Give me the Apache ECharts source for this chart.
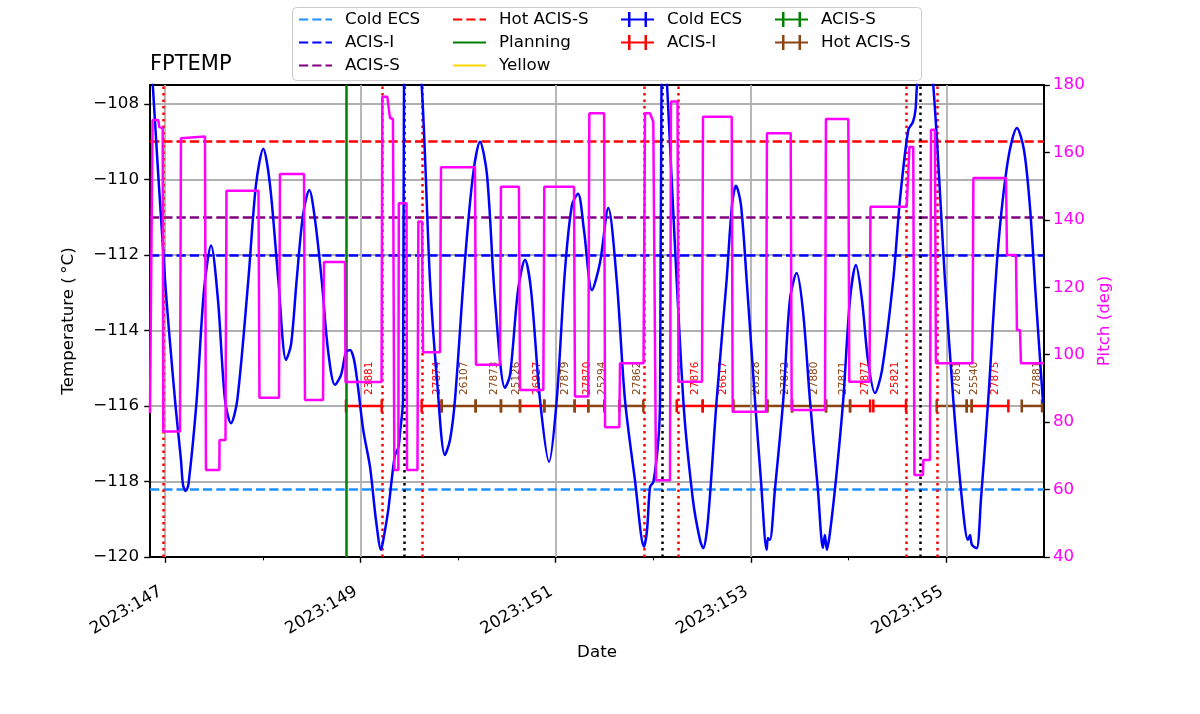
<!DOCTYPE html>
<html><head><meta charset="utf-8">
<script src="https://cdn.jsdelivr.net/npm/echarts@6/dist/echarts.min.js"></script>
<style>html,body{margin:0;padding:0;background:#fff}#chart{width:1200px;height:714px}</style>
</head><body><div id="chart"></div>
<script>
const FONT = 'DejaVu Sans';
// ---- axes (x = day of year 2023) ----
const xMin = 146.845, xMax = 156.0;
const xMajorTicks = [147, 149, 151, 153, 155];
const xMinorTicks = [148, 150, 152, 154];
const tempTicks = [-120, -118, -116, -114, -112, -110, -108];
const tempMin = -120, tempMax = -107.5;
const pitchMin = 40, pitchMax = 180, pitchStep = 20;

// ---- limit lines ----
const limitNames = ['Cold ECS', 'ACIS-I', 'ACIS-S', 'Hot ACIS-S'];
const limitValues = [-118.2, -112.0, -111.0, -109.0];
const limitColors = ['#1e90ff', '#0000ff', '#800080', '#ff0000'];
const planningDay = 148.849;
const radzoneEdges = [146.981, 149.224, 149.634, 151.907, 152.245, 154.594, 154.912];
const perigees = [149.449, 152.095, 154.730];

// ---- observation timeline ----
const obsLevel = -116;
const obsIds =   [23881, 27874, 26107, 27873, 25126, 26927, 27879, 27870, 25294, 27862, 27876, 26617, 26528, 27872, 27880, 27871, 27877, 25821, 27861, 25540, 27875, 27881];
const obsStart = [148.852, 149.627, 149.832, 150.180, 150.439, 150.634, 150.883, 151.194, 151.333, 151.651, 152.239, 152.505, 152.818, 153.167, 153.420, 153.768, 154.014, 154.252, 154.901, 155.209, 155.260, 155.772];
const obsStop =  [149.218, 149.832, 150.180, 150.439, 150.634, 150.883, 151.194, 151.333, 151.497, 151.897, 152.505, 152.818, 153.167, 153.420, 153.768, 154.014, 154.219, 154.587, 155.209, 155.260, 155.635, 155.980];
const obsTypes = ['ACIS-I', 'ACIS-I', 'Hot ACIS-S', 'Hot ACIS-S', 'Hot ACIS-S', 'ACIS-I', 'Hot ACIS-S', 'ACIS-I', 'Hot ACIS-S', 'Hot ACIS-S', 'ACIS-I', 'ACIS-I', 'Hot ACIS-S', 'Hot ACIS-S', 'Hot ACIS-S', 'Hot ACIS-S', 'ACIS-I', 'ACIS-I', 'Hot ACIS-S', 'Hot ACIS-S', 'ACIS-I', 'Hot ACIS-S'];
const obsTypeNames = ['Cold ECS', 'ACIS-I', 'ACIS-S', 'Hot ACIS-S'];
const obsTypeColors = ['#0000ff', '#ff0000', '#008000', '#8b4513'];

// ---- FPTEMP (deg C) ----
const tempDays = [146.845,146.999,147.101,147.162,147.183,147.211,147.239,147.323,147.398,147.470,
147.541,147.613,147.674,147.739,147.852,147.930,148.005,148.074,148.159,148.238,
148.289,148.347,148.412,148.476,148.535,148.603,148.668,148.739,148.801,148.852,
148.893,148.944,149.029,149.098,149.159,149.211,149.234,149.285,149.320,149.354,
149.388,149.405,149.436,149.446,149.528,149.627,149.712,149.784,149.865,149.917,
149.968,150.071,150.153,150.224,150.296,150.378,150.480,150.532,150.614,150.685,
150.747,150.839,150.931,151.010,151.095,151.166,151.228,151.289,151.371,151.453,
151.538,151.624,151.709,151.811,151.904,151.935,151.966,152.000,152.051,152.068,
152.083,152.109,152.140,152.306,152.405,152.477,152.511,152.559,152.648,152.750,
152.805,152.846,152.897,152.955,153.040,153.101,153.160,153.173,153.193,153.244,
153.330,153.398,153.467,153.531,153.603,153.685,153.736,153.756,153.777,153.808,
153.869,153.944,154.013,154.074,154.136,154.197,154.269,154.341,154.456,154.525,
154.610,154.658,154.684,154.700,154.781,154.866,154.986,155.071,155.160,155.221,
155.242,155.262,155.310,155.354,155.429,155.528,155.631,155.723,155.795,155.856,
155.918,155.990];
const tempValues = [-106.3,-112.66,-115.84,-117.43,-118.09,-118.25,-118.07,-115.84,-112.93,-111.75,
-113.19,-115.84,-116.46,-115.84,-112.66,-110.15,-109.19,-110.15,-112.66,-114.78,
-114.38,-112.66,-110.94,-110.28,-111.07,-112.66,-114.52,-115.44,-115.18,-114.57,
-114.52,-114.91,-116.64,-117.61,-119.02,-119.81,-119.55,-118.75,-117.96,-117.30,
-117.11,-116.72,-115.84,-107.5,-105.0,-107.5,-112.66,-115.31,-117.30,-116.90,
-115.84,-112.13,-109.88,-109.0,-109.88,-113.19,-115.52,-115.18,-112.93,-112.13,
-112.93,-115.84,-117.48,-115.84,-112.40,-110.68,-110.38,-111.34,-112.93,-112.21,
-110.76,-112.66,-115.84,-117.96,-119.73,-119.28,-118.14,-118.01,-116.90,-115.84,
-107.5,-105.8,-107.5,-115.84,-118.49,-119.55,-119.77,-119.02,-115.84,-112.66,
-110.68,-110.17,-110.68,-112.66,-115.84,-117.96,-119.81,-119.50,-119.55,-118.23,
-115.84,-113.19,-112.48,-113.46,-115.84,-118.23,-119.76,-119.42,-119.81,-119.36,
-117.96,-115.84,-113.19,-112.27,-113.19,-114.78,-115.66,-115.05,-112.66,-110.54,
-108.69,-108.48,-108.16,-107.5,-105.8,-107.5,-112.66,-115.84,-118.49,-119.55,
-119.42,-119.68,-119.77,-118.49,-115.84,-111.87,-109.49,-108.64,-109.22,-110.72,
-113.19,-115.92];

// ---- Pitch (deg) ----
const pitchDays = [146.845,146.862,146.871,146.930,146.940,146.975,146.981,147.152,147.162,147.408,
147.418,147.555,147.557,147.618,147.628,147.956,147.966,148.166,148.176,148.422,
148.432,148.617,148.627,148.842,148.847,149.216,149.224,149.275,149.303,149.333,
149.347,149.388,149.393,149.472,149.477,149.584,149.593,149.630,149.641,149.815,
149.825,150.173,150.183,150.429,150.439,150.623,150.634,150.873,150.883,151.187,
151.197,151.333,151.344,151.495,151.505,151.651,151.658,151.899,151.914,151.965,
151.999,152.016,152.027,152.170,152.180,152.247,152.257,152.498,152.508,152.802,
152.812,153.153,153.163,153.406,153.416,153.757,153.767,153.996,154.006,154.213,
154.223,154.594,154.607,154.622,154.661,154.673,154.760,154.765,154.832,154.843,
154.883,154.893,155.267,155.277,155.611,155.621,155.713,155.723,155.754,155.764,
156.0];
const pitchValues = [82.7,82.7,169.6,169.6,167.5,167.2,77.2,77.2,164.2,164.7,
65.8,65.8,74.7,74.7,148.6,148.6,87.2,87.2,153.6,153.6,
86.6,86.6,127.5,127.5,91.9,91.9,176.5,176.5,170.2,169.9,
65.8,65.8,144.9,144.9,65.8,65.8,139.5,139.5,100.7,100.7,
155.6,155.6,97.0,97.0,149.8,149.8,89.5,89.5,149.8,149.8,
87.6,87.6,171.6,171.6,78.5,78.5,97.5,97.5,171.6,171.6,
169.1,169.1,62.8,62.8,175.1,175.1,92.0,92.0,170.6,170.6,
83.1,83.1,165.7,165.7,83.6,83.6,169.9,169.9,92.0,92.0,
143.9,143.9,144.4,161.6,161.6,64.3,64.3,68.8,68.8,166.7,
166.7,97.5,97.5,152.4,152.4,129.6,129.6,107.3,107.3,97.5,
97.5];

// ================= build chart =================
const DASH = [9.25, 4];
const DOT = [2.5, 4];
const LW = 2.5;
const minus = v => String(v).replace('-', '\u2212');
const zip = (a, b) => a.map((d, i) => [d, b[i]]);

function vLineSeries(days, color, type, width, z, name) {
  return {
    name: name || undefined, type: 'line', data: [], symbol: 'none', z: z, silent: true,
    lineStyle: { color: color, type: type, width: width }, itemStyle: { color: color },
    markLine: {
      silent: true, symbol: ['none', 'none'], label: { show: false }, animation: false,
      emphasis: { disabled: true },
      lineStyle: { color: color, type: type, width: width },
      data: days.map(d => ({ xAxis: d }))
    }
  };
}

const series = [];
// grid lines
series.push(vLineSeries(xMajorTicks, '#b0b0b0', 'solid', 1.8, 1));
// limit lines
limitNames.forEach((n, i) => {
  series.push({
    name: n + '|lim', type: 'line', data: [], symbol: 'none', z: 2, silent: true,
    lineStyle: { color: limitColors[i], type: DASH, width: LW }, itemStyle: { color: limitColors[i] },
    markLine: {
      silent: true, symbol: ['none', 'none'], label: { show: false }, animation: false,
      emphasis: { disabled: true },
      lineStyle: { color: limitColors[i], type: DASH, width: LW },
      data: [{ yAxis: limitValues[i] }]
    }
  });
});
series.push(vLineSeries([planningDay], '#008000', 'solid', LW, 3, 'Planning'));
series.push({ name: 'Yellow', type: 'line', data: [], symbol: 'none', z: 3,
  lineStyle: { color: '#ffd700', width: LW }, itemStyle: { color: '#ffd700' } });
series.push(vLineSeries(radzoneEdges, '#ff0000', DOT, LW, 3));
series.push(vLineSeries(perigees, '#000000', DOT, LW, 3));

function renderObs(params, api) {
  const y = api.value(2);
  const s = api.coord([api.value(0), y]);
  const e = api.coord([api.value(1), y]);
  const color = api.visual('color');
  const cap = 6.5;
  const id = obsIds[api.value(3)];
  return {
    type: 'group',
    children: [
      { type: 'line', shape: { x1: s[0], y1: s[1], x2: e[0], y2: e[1] }, style: { stroke: color, lineWidth: LW } },
      { type: 'line', shape: { x1: s[0], y1: s[1] - cap, x2: s[0], y2: s[1] + cap }, style: { stroke: color, lineWidth: LW } },
      { type: 'line', shape: { x1: e[0], y1: e[1] - cap, x2: e[0], y2: e[1] + cap }, style: { stroke: color, lineWidth: LW } },
      { type: 'text', x: (s[0] + e[0]) / 2, y: s[1] - 11, rotation: Math.PI / 2,
        style: { text: String(id), fill: color, font: '10.5px "DejaVu Sans"', align: 'left', verticalAlign: 'top' } }
    ]
  };
}
obsTypeNames.forEach((t, k) => {
  const data = [];
  obsIds.forEach((id, i) => { if (obsTypes[i] === t) data.push([obsStart[i], obsStop[i], obsLevel, i]); });
  series.push({
    name: t + '|obs', type: 'custom', renderItem: renderObs, data: data, z: 4, silent: true,
    encode: { x: [0, 1], y: 2 }, itemStyle: { color: obsTypeColors[k] }, clip: true
  });
});

series.push({
  name: 'FPTEMP', type: 'line', data: zip(tempDays, tempValues), symbol: 'none', z: 5, smooth: 0.3,
  lineStyle: { color: '#0000ff', width: LW }, itemStyle: { color: '#0000ff' }, silent: true, clip: true
});
series.push({
  name: 'Pitch', type: 'line', yAxisIndex: 1, data: zip(pitchDays, pitchValues), symbol: 'none', z: 6,
  lineStyle: { color: '#ff00ff', width: LW }, itemStyle: { color: '#ff00ff' }, silent: true, clip: true
});

const ebIcon = 'path://M0,6.5H33V8.5H0Z M7,0H9.5V15H7Z M23.5,0H26V15H23.5Z';
function legendCol(left, names, hideSymbol) {
  const l = {
    orient: 'vertical', left: left, top: 11, itemWidth: 33, itemHeight: 15, itemGap: 6,
    selectedMode: false, padding: 0,
    formatter: n => n.split('|')[0],
    textStyle: { fontFamily: FONT, fontSize: 16.7, color: '#000', lineHeight: 17, padding: [0, 0, 0, 8] },
    data: names
  };
  if (hideSymbol) l.itemStyle = { opacity: 0, color: 'rgba(0,0,0,0)', borderWidth: 0 };
  return l;
}

const option = {
  animation: false,
  textStyle: { fontFamily: FONT },
  title: { text: 'FPTEMP', left: 150, top: 54, padding: 0,
    textStyle: { fontFamily: FONT, fontSize: 21, fontWeight: 'normal', color: '#000' } },
  graphic: [{ type: 'rect', left: 292, top: 7, z: 0,
    shape: { width: 629, height: 73, r: 4 },
    style: { fill: 'rgba(255,255,255,0.8)', stroke: '#cccccc', lineWidth: 1 } }],
  legend: [
    legendCol(298, ['Cold ECS|lim', 'ACIS-I|lim', 'ACIS-S|lim'], true),
    legendCol(452, ['Hot ACIS-S|lim', 'Planning', 'Yellow'], true),
    legendCol(621, [{ name: 'Cold ECS|obs', icon: ebIcon }, { name: 'ACIS-I|obs', icon: ebIcon }], false),
    legendCol(775, [{ name: 'ACIS-S|obs', icon: ebIcon }, { name: 'Hot ACIS-S|obs', icon: ebIcon }], false)
  ],
  grid: { left: 150, right: 156, top: 85, bottom: 157, containLabel: false },
  xAxis: [
    { type: 'value', min: xMin, max: xMax, position: 'bottom',
      name: 'Date', nameLocation: 'middle', nameGap: 82,
      nameTextStyle: { fontFamily: FONT, fontSize: 16.7, color: '#000' },
      axisLine: { show: true, onZero: false, lineStyle: { color: '#000', width: 2 } },
      axisTick: { show: true, customValues: xMajorTicks, length: 5.8, lineStyle: { color: '#000', width: 1.4 } },
      axisLabel: { show: true, customValues: xMajorTicks, rotate: 30, margin: 31, padding: [0, 5, 0, 0],
        formatter: v => '2023:' + Math.round(v), fontFamily: FONT, fontSize: 16.7, color: '#000' },
      splitLine: { show: false } },
    { type: 'value', min: xMin, max: xMax, position: 'bottom',
      axisLine: { show: false, onZero: false },
      axisTick: { show: true, customValues: xMinorTicks, length: 3.3, lineStyle: { color: '#000', width: 1.1 } },
      axisLabel: { show: false }, splitLine: { show: false } },
    { type: 'value', min: xMin, max: xMax, position: 'top',
      axisLine: { show: true, onZero: false, lineStyle: { color: '#000', width: 2 } },
      axisTick: { show: false }, axisLabel: { show: false }, splitLine: { show: false } }
  ],
  yAxis: [
    { type: 'value', min: tempMin, max: tempMax, interval: 2, position: 'left',
      name: 'Temperature (\u2009\u00b0C)', nameLocation: 'middle', nameGap: 73, nameRotate: 90,
      nameTextStyle: { fontFamily: FONT, fontSize: 16.7, color: '#000' },
      axisLine: { show: true, onZero: false, lineStyle: { color: '#000', width: 2 } },
      axisTick: { show: true, customValues: tempTicks, length: 5.8, lineStyle: { color: '#000', width: 1.4 } },
      axisLabel: { customValues: tempTicks, formatter: minus, margin: 11, fontFamily: FONT, fontSize: 16.7, color: '#000' },
      splitLine: { show: true, lineStyle: { color: '#b0b0b0', width: 1.8 } } },
    { type: 'value', min: pitchMin, max: pitchMax, interval: pitchStep, position: 'right',
      name: 'Pitch (deg)', nameLocation: 'middle', nameGap: 52, nameRotate: 90,
      nameTextStyle: { fontFamily: FONT, fontSize: 16.7, color: '#ff00ff' },
      axisLine: { show: true, onZero: false, lineStyle: { color: '#000', width: 2 } },
      axisTick: { show: true, length: 5.8, lineStyle: { color: '#000', width: 1.4 } },
      axisLabel: { margin: 9, fontFamily: FONT, fontSize: 16.7, color: '#ff00ff' },
      splitLine: { show: false } }
  ],
  series: series
};

const chart = echarts.init(document.getElementById('chart'), null, { renderer: 'canvas' });
chart.setOption(option);
</script>
</body></html>
